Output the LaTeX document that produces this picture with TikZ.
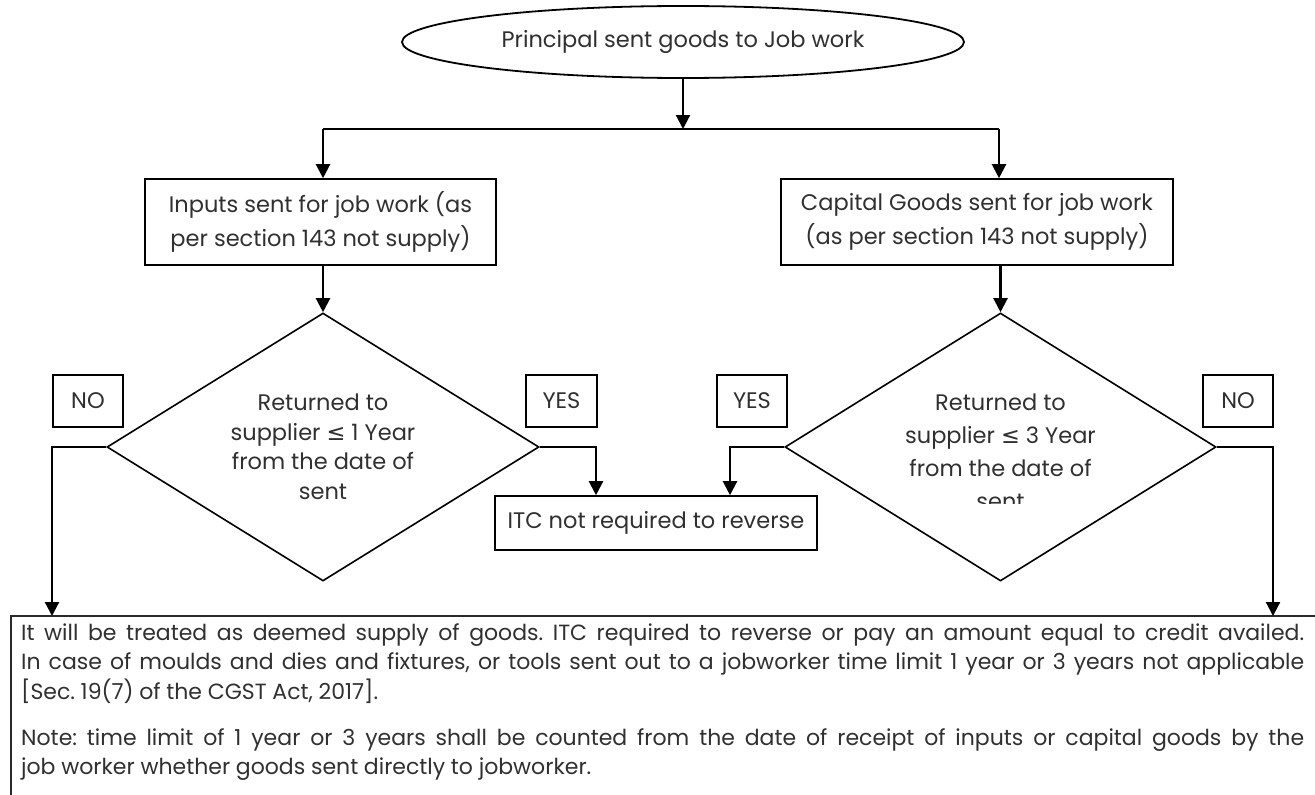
\documentclass[tikz,border=0pt]{standalone}
\usepackage{fontspec}
\setmainfont{Poppins}
\newfontfamily\symfont{DejaVu Sans}
\usetikzlibrary{shapes.geometric,arrows.meta}
\definecolor{txt}{HTML}{303030}
\definecolor{framec}{HTML}{2A2A2A}
\begin{document}
\begin{tikzpicture}[x=1pt,y=-1pt,
  every node/.style={text=txt},
  lbl/.style={font=\fontsize{22.5}{34}\selectfont},
  conn/.style={draw=black,line width=2.2pt,-{Triangle[length=14pt,width=14pt]}},
  plainline/.style={draw=black,line width=2.2pt},
  boxnode/.style={lbl,draw=black,line width=1.6pt,rectangle,inner sep=0pt,align=center},
  decision/.style={draw=black,line width=1.6pt,diamond,inner sep=0pt,minimum width=432pt,minimum height=268pt},
  dtext/.style={font=\fontsize{22.5}{29.5}\selectfont,align=center,inner sep=0pt},
  tag/.style={boxnode,minimum width=70pt,minimum height=52pt},
  frame/.style={draw=framec,line width=2.4pt}
]
\useasboundingbox (0,0) rectangle (1315,795);
\fill[white] (0,0) rectangle (1315,795);

% start
\node[lbl,ellipse,draw=black,line width=1.8pt,minimum width=562pt,minimum height=72pt,inner sep=0pt] (start) at (683,42) {Principal sent goods to Job work};

\coordinate (split) at (683,129);
\coordinate (jl) at (323,129);
\coordinate (jr) at (999,129);

% boxes
\node[boxnode,minimum width=351pt,minimum height=86pt] (inbox) at (320.5,222) {Inputs sent for job work (as\\per section 143 not supply)};
\node[boxnode,minimum width=392pt,minimum height=86pt] (capbox) at (977,222) {Capital Goods sent for job work\\(as per section 143 not supply)};

% decisions
\node[decision] (dl) at (323,447) {};
\node[dtext] (dltext) at (323,447) {Returned to\\supplier {\symfont ≤} 1 Year\\from the date of\\sent};
\node[decision,minimum width=431pt] (dr) at (1000.5,447) {};
\begin{scope}
  \clip (790,300) rectangle (1210,503);
  \node[dtext,font=\fontsize{22.5}{33}\selectfont,anchor=north] (drtext) at (1000.5,394) {Returned to\\supplier {\symfont ≤} 3 Year\\from the date of\\sent};
\end{scope}

% tags
\node[tag] (nol) at (88,401) {NO};
\node[tag,minimum width=71pt] (yesl) at (561.5,401) {YES};
\node[tag] (yesr) at (752,401) {YES};
\node[tag] (nor) at (1238,401) {NO};

% ITC
\node[boxnode,minimum width=322pt,minimum height=54pt] (itc) at (656,523) {ITC not required to reverse};

% bottom frame
\coordinate (frametop) at (683,616);
\draw[frame] (11,820) -- (11,616) -- (1330,616);
\node[anchor=north west,inner sep=0pt,text width=1283pt,align=justify,
      font=\fontsize{22}{29.5}\selectfont] (note) at (21,623)
 {\frenchspacing\spaceskip=0.26em plus 0.4em minus 0.12em
 It will be treated as deemed supply of goods. ITC required to reverse or pay an amount equal to credit availed.\break
 In case of moulds and dies and fixtures, or tools sent out to a jobworker time limit 1 year or 3 years not applicable\break
 [Sec. 19(7) of the CGST Act, 2017].\par\vspace{16.5pt}
 Note: time limit of 1 year or 3 years shall be counted from the date of receipt of inputs or capital goods by the\break
 job worker whether goods sent directly to jobworker.};

% connectors
\draw[conn] (start.south) -- (split);
\draw[plainline] (jl) -- (jr);
\draw[conn] (jl) -- (jl |- inbox.north);
\draw[conn] (jr) -- (jr |- capbox.north);
\draw[conn] (inbox.south -| dl.north) -- (dl.north);
\draw[conn] (capbox.south -| dr.north) -- (dr.north);

\coordinate (nlc) at (52,447);
\coordinate (ylc) at (596,447);
\coordinate (yrc) at (730,447);
\coordinate (nrc) at (1273,447);
\draw[conn] (dl.west) -- (nlc) -- (nlc |- frametop);
\draw[conn] (dl.east) -- (ylc) -- (ylc |- itc.north);
\draw[conn] (dr.west) -- (yrc) -- (yrc |- itc.north);
\draw[conn] (dr.east) -- (nrc) -- (nrc |- frametop);
\end{tikzpicture}
\end{document}
